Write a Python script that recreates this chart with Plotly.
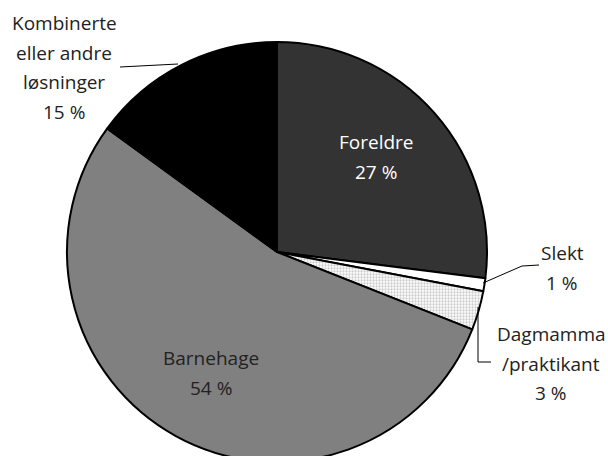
import plotly.graph_objects as go

# Data
categories = ["Foreldre", "Slekt", "Dagmamma /praktikant", "Barnehage", "Kombinerte eller andre løsninger"]
values = [27, 1, 3, 54, 15]
label_lines = [
    ["Foreldre", "27 %"],
    ["Slekt", "1 %"],
    ["Dagmamma", "/praktikant", "3 %"],
    ["Barnehage", "54 %"],
    ["Kombinerte", "eller andre", "løsninger", "15 %"],
]

W, H = 608, 466  # figure slightly taller than window so the pie is clipped at bottom as in reference
colors = ["#333333", "#ffffff", "#ffffff", "#808080", "#000000"]
patterns = ["", "", ".", "", ""]

fig = go.Figure(go.Pie(
    labels=categories,
    values=values,
    sort=False,
    direction="clockwise",
    rotation=0,
    textinfo="none",
    hoverinfo="label+percent",
    marker=dict(
        colors=colors,
        line=dict(color="#000000", width=2),
        pattern=dict(shape=patterns, fgcolor="#cccccc", bgcolor="#ffffff", size=3, solidity=0.45),
    ),
    domain=dict(x=[67 / W, 487 / W], y=[1 - 462 / H, 1 - 42 / H]),
    showlegend=False,
))

def px(x):
    return x / W

def py(y):
    return 1 - y / H

# label placements (pixel positions of first line center, colour)
label_pos = [
    (376, 142, "#ffffff"),
    (562, 253, "#222222"),
    (551, 334, "#222222"),
    (211, 358, "#222222"),
    (64, 23, "#222222"),
]
line_gap = 29.5
annotations = []
for lines, (x, y, c) in zip(label_lines, label_pos):
    for i, t in enumerate(lines):
        annotations.append(dict(
            x=px(x), y=py(y + i * line_gap), xref="paper", yref="paper",
            text=t, showarrow=False, xanchor="center", yanchor="middle",
            font=dict(family="Open Sans, Noto Sans, sans-serif", size=19, color=c),
        ))

# leader lines
leaders = [
    [(483, 283), (522, 266), (539, 265)],
    [(478, 307), (478, 362), (491, 362)],
    [(120, 67), (178, 64)],
]
shapes = []
for pts in leaders:
    path = "M " + " L ".join(f"{px(a)},{py(b)}" for a, b in pts)
    shapes.append(dict(type="path", xref="paper", yref="paper", path=path,
                       line=dict(color="#000000", width=1)))

fig.update_layout(
    width=W, height=H,
    margin=dict(l=0, r=0, t=0, b=0),
    paper_bgcolor="#ffffff",
    plot_bgcolor="#ffffff",
    annotations=annotations,
    shapes=shapes,
)

fig.write_html(
    "out.html",
    config={"displayModeBar": False},
    post_script="document.body.style.margin='0';document.body.style.overflow='hidden';document.documentElement.style.overflow='hidden';",
)
